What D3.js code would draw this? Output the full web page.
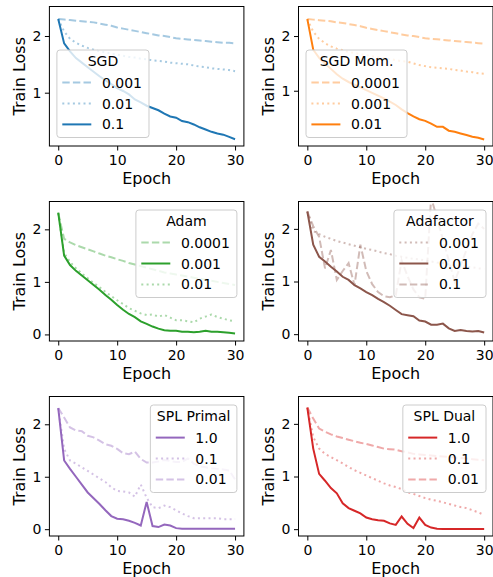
<!DOCTYPE html>
<html>
<head>
  <meta charset="utf-8">
  <title>Train Loss</title>
  <style>
    body { margin: 0; background: #fff; }
    text { font-family: "DejaVu Sans", sans-serif; fill: #000; }
  </style>
</head>
<body>
  <div id="plot"></div>

  <script src="https://d3js.org/d3.v7.min.js"></script>
  <script>

    // epochs (x values)
    let epochs = [0,1,2,3,4,5,6,7,8,9,10,11,12,13,14,15,16,17,18,19,20,21,22,23,24,25,26,27,28,29,30];
    let xTicks = [0, 10, 20, 30];

    // SGD
    let sgd_0001 = [2.30,2.29,2.28,2.27,2.26,2.25,2.24,2.22,2.20,2.18,2.15,2.13,2.11,2.09,2.07,2.05,2.03,2.01,2.00,1.98,1.96,1.95,1.94,1.93,1.92,1.91,1.90,1.89,1.88,1.88,1.87];
    let sgd_001 = [2.30,2.08,1.95,1.88,1.83,1.79,1.76,1.73,1.71,1.69,1.67,1.65,1.63,1.62,1.60,1.59,1.57,1.56,1.55,1.53,1.52,1.51,1.50,1.48,1.46,1.45,1.43,1.42,1.41,1.40,1.38];
    let sgd_01 = [2.30,1.87,1.73,1.61,1.53,1.45,1.37,1.29,1.22,1.15,1.08,1.03,0.97,0.88,0.83,0.77,0.73,0.69,0.63,0.58,0.56,0.50,0.48,0.44,0.39,0.35,0.31,0.28,0.26,0.22,0.18];

    // SGD Mom.
    let mom_00001 = [2.31,2.30,2.29,2.28,2.27,2.25,2.24,2.22,2.20,2.18,2.15,2.13,2.11,2.09,2.07,2.05,2.03,2.01,2.00,1.98,1.96,1.95,1.94,1.93,1.92,1.91,1.90,1.89,1.88,1.87,1.86];
    let mom_0001 = [2.31,2.08,1.95,1.87,1.81,1.77,1.74,1.71,1.69,1.67,1.65,1.63,1.61,1.60,1.58,1.56,1.54,1.53,1.50,1.47,1.45,1.43,1.42,1.41,1.40,1.38,1.37,1.35,1.34,1.32,1.31];
    let mom_001 = [2.31,1.75,1.60,1.50,1.40,1.30,1.22,1.16,1.11,1.06,1.01,0.96,0.91,0.86,0.80,0.74,0.66,0.59,0.53,0.48,0.45,0.40,0.34,0.34,0.27,0.25,0.22,0.19,0.16,0.14,0.11];

    // Adam
    let adam_00001 = [2.31,1.82,1.75,1.70,1.66,1.62,1.58,1.54,1.50,1.47,1.43,1.40,1.36,1.33,1.30,1.27,1.24,1.21,1.18,1.16,1.14,1.12,1.10,1.08,1.06,1.04,1.02,1.00,0.98,0.96,0.94];
    let adam_0001 = [2.32,1.50,1.32,1.21,1.12,1.03,0.94,0.85,0.75,0.66,0.56,0.47,0.39,0.33,0.25,0.20,0.15,0.11,0.08,0.07,0.07,0.05,0.05,0.04,0.05,0.07,0.05,0.05,0.04,0.03,0.02];
    let adam_001 = [2.31,1.55,1.38,1.26,1.16,1.07,0.98,0.90,0.81,0.73,0.65,0.58,0.50,0.45,0.40,0.37,0.38,0.34,0.37,0.32,0.27,0.27,0.25,0.23,0.30,0.34,0.38,0.33,0.30,0.27,0.25];

    // Adafactor
    let ada_0001 = [2.33,1.96,1.90,1.85,1.81,1.77,1.74,1.71,1.68,1.65,1.62,1.60,1.57,1.54,1.52,1.49,1.47,1.45,1.43,1.42,1.40,1.38,1.36,1.35,1.33,1.31,1.30,1.28,1.27,1.25,1.24];
    let ada_001 = [2.33,1.70,1.47,1.38,1.28,1.19,1.09,1.03,0.93,0.87,0.80,0.74,0.67,0.61,0.54,0.46,0.38,0.36,0.34,0.26,0.24,0.18,0.18,0.20,0.11,0.06,0.08,0.06,0.05,0.06,0.03];
    let ada_01 = [2.33,2.05,1.85,1.25,1.60,1.03,1.20,1.35,0.93,1.70,1.20,0.95,0.80,0.72,0.70,0.74,1.40,1.10,0.85,0.70,0.67,2.60,2.20,1.80,1.40,1.00,1.30,1.60,1.90,2.10,2.00];

    // SPL Primal
    let primal_1 = [2.31,1.31,1.15,1.00,0.85,0.70,0.59,0.48,0.36,0.25,0.20,0.19,0.16,0.12,0.07,0.52,0.06,0.04,0.09,0.07,0.02,0.01,0.01,0.01,0.01,0.01,0.01,0.01,0.01,0.01,0.01];
    let primal_01 = [2.31,1.53,1.31,1.25,1.18,1.11,1.04,0.97,0.90,0.80,0.73,0.72,0.70,0.62,0.85,0.60,0.42,0.40,0.45,0.42,0.36,0.30,0.25,0.21,0.21,0.21,0.21,0.21,0.19,0.19,0.19];
    let primal_001 = [2.31,2.13,1.94,1.88,1.87,1.78,1.75,1.69,1.62,1.59,1.53,1.45,1.43,1.48,1.34,1.27,1.27,1.29,1.32,1.30,1.28,1.28,1.35,1.25,1.20,1.18,1.16,1.15,1.14,1.12,0.95];

    // SPL Dual
    let dual_1 = [2.31,1.53,1.05,0.92,0.78,0.68,0.49,0.40,0.35,0.30,0.22,0.19,0.17,0.16,0.11,0.08,0.24,0.10,0.02,0.22,0.08,0.03,0.01,0.005,0.005,0.005,0.005,0.005,0.005,0.005,0.005];
    let dual_01 = [2.31,1.75,1.53,1.43,1.37,1.31,1.25,1.18,1.12,1.07,1.02,0.97,0.92,0.87,0.83,0.80,0.76,0.70,0.67,0.63,0.59,0.56,0.54,0.51,0.48,0.45,0.42,0.40,0.36,0.32,0.27];
    let dual_001 = [2.31,2.10,1.91,1.85,1.80,1.76,1.73,1.70,1.67,1.64,1.62,1.59,1.56,1.53,1.52,1.51,1.48,1.46,1.43,1.42,1.41,1.40,1.39,1.38,1.37,1.36,1.35,1.34,1.33,1.32,1.31];

    // panel 설정 (색, 범례, 축 범위)
    let panels = [
      {title:'SGD', color:'#1f77b4', col:0, row:0, ylim:[0.06,2.52], yTicks:[1,2], loc:'lower left',
       series:[{label:'0.001', data:sgd_0001, dash:'dashed', faint:true},
               {label:'0.01', data:sgd_001, dash:'dotted', faint:true},
               {label:'0.1', data:sgd_01, dash:'solid', faint:false}]},
      {title:'SGD Mom.', color:'#ff7f0e', col:1, row:0, ylim:[-0.01,2.54], yTicks:[1,2], loc:'lower left',
       series:[{label:'0.0001', data:mom_00001, dash:'dashed', faint:true},
               {label:'0.001', data:mom_0001, dash:'dotted', faint:true},
               {label:'0.01', data:mom_001, dash:'solid', faint:false}]},
      {title:'Adam', color:'#2ca02c', col:0, row:1, ylim:[-0.125,2.53], yTicks:[0,1,2], loc:'upper right',
       series:[{label:'0.0001', data:adam_00001, dash:'dashed', faint:true},
               {label:'0.001', data:adam_0001, dash:'solid', faint:false},
               {label:'0.01', data:adam_001, dash:'dotted', faint:true}]},
      {title:'Adafactor', color:'#8c564b', col:1, row:1, ylim:[-0.13,2.52], yTicks:[0,1,2], loc:'upper right',
       series:[{label:'0.001', data:ada_0001, dash:'dotted', faint:true},
               {label:'0.01', data:ada_001, dash:'solid', faint:false},
               {label:'0.1', data:ada_01, dash:'dashed', faint:true}]},
      {title:'SPL Primal', color:'#9467bd', col:0, row:2, ylim:[-0.13,2.53], yTicks:[0,1,2], loc:'upper right',
       series:[{label:'1.0', data:primal_1, dash:'solid', faint:false},
               {label:'0.1', data:primal_01, dash:'dotted', faint:true},
               {label:'0.01', data:primal_001, dash:'dashed', faint:true}]},
      {title:'SPL Dual', color:'#d62728', col:1, row:2, ylim:[-0.13,2.52], yTicks:[0,1,2], loc:'upper right',
       series:[{label:'1.0', data:dual_1, dash:'solid', faint:false},
               {label:'0.1', data:dual_01, dash:'dotted', faint:true},
               {label:'0.01', data:dual_001, dash:'dashed', faint:true}]}
    ];

    function translate(x,y) {
      return 'translate('+ x + ',' + y +')';
    }

    let svgWidth = 493;
    let svgHeight = 577;
    let colLeft = [49.4, 298.5];
    let rowTop = [6.5, 201.5, 396.5];
    let width = 194.5;
    let height = 139.5;
    let dashes = {solid:null, dashed:'7.4,3.2', dotted:'2,3.3'};

    let svg = d3.select('#plot')
      .append('svg')
        .attr('width', svgWidth)
        .attr('height', svgHeight);

    panels.forEach(function (p, pi) {
      let g = svg.append('g')
        .attr('transform', translate(colLeft[p.col], rowTop[p.row]));

      let x = d3.scaleLinear().domain([-1.5, 31.5]).range([0, width]);
      let y = d3.scaleLinear().domain(p.ylim).range([height, 0]);

      // clip
      g.append('clipPath')
        .attr('id', 'clip' + pi)
        .append('rect')
          .attr('width', width)
          .attr('height', height);

      let line = d3.line()
        .x((d, i) => x(epochs[i]))
        .y(d => y(d));

      // lines
      g.append('g')
        .attr('clip-path', 'url(#clip' + pi + ')')
        .selectAll('path')
        .data(p.series)
        .enter()
          .append('path')
          .attr('d', d => line(d.data))
          .attr('fill', 'none')
          .attr('stroke', p.color)
          .attr('stroke-opacity', d => d.faint ? 0.4 : 1)
          .attr('stroke-width', 2)
          .attr('stroke-dasharray', d => dashes[d.dash]);

      // axes
      let xAxis = d3.axisBottom(x).tickValues(xTicks).tickFormat(d3.format('d'))
        .tickSize(4.5).tickPadding(4.5).tickSizeOuter(0);
      let yAxis = d3.axisLeft(y).tickValues(p.yTicks).tickFormat(d3.format('d'))
        .tickSize(4.5).tickPadding(3.5).tickSizeOuter(0);

      let gx = g.append('g')
        .attr('transform', translate(0, height))
        .call(xAxis);
      let gy = g.append('g').call(yAxis);

      [gx, gy].forEach(function (a) {
        a.select('.domain').remove();
        a.selectAll('line').attr('stroke', '#000').attr('stroke-width', 1);
        a.selectAll('text').style('font-size', '14px').style('font-family', '"DejaVu Sans"').attr('fill', '#000');
      });

      // frame
      g.append('rect')
        .attr('width', width)
        .attr('height', height)
        .attr('fill', 'none')
        .attr('stroke', '#000')
        .attr('stroke-width', 1);

      // axis labels
      g.append('text')
        .attr('x', width / 2)
        .attr('y', height + 38)
        .style('text-anchor', 'middle')
        .style('font-size', '16px')
        .text('Epoch');

      g.append('text')
        .attr('transform', translate(-24.4, height / 2) + ' rotate(-90)')
        .style('text-anchor', 'middle')
        .style('font-size', '16px')
        .text('Train Loss');

      // legend
      let lg = g.append('g');
      let box = lg.append('rect');
      let title = lg.append('text')
        .attr('y', 16)
        .style('text-anchor', 'middle')
        .style('font-size', '14px')
        .text(p.title);

      let items = lg.selectAll('.item')
        .data(p.series)
        .enter()
        .append('g')
          .attr('transform', (d, i) => translate(0, 37.6 + i * 20.9));

      items.append('line')
        .attr('x1', 5.4)
        .attr('x2', 34.4)
        .attr('y1', -5)
        .attr('y2', -5)
        .attr('stroke', p.color)
        .attr('stroke-opacity', d => d.faint ? 0.4 : 1)
        .attr('stroke-width', 2)
        .attr('stroke-dasharray', d => dashes[d.dash]);

      let labels = items.append('text')
        .attr('x', 45)
        .style('font-size', '14px')
        .text(d => d.label);

      let maxW = d3.max(labels.nodes(), n => n.getComputedTextLength());
      let titleW = title.node().getComputedTextLength();
      let bw = Math.max(45 + maxW + 7, titleW + 13);
      let bh = 87.5;
      title.attr('x', bw / 2);

      box.attr('width', bw)
        .attr('height', bh)
        .attr('rx', 3)
        .attr('fill', '#fff')
        .attr('fill-opacity', 0.8)
        .attr('stroke', '#cccccc')
        .attr('stroke-width', 1);

      let lx = p.loc == 'lower left' ? 7.5 : width - 7 - bw;
      let ly = p.loc == 'lower left' ? height - 8.5 - bh : 8.5;
      lg.attr('transform', translate(lx, ly));
    });

  </script>
</body>
</html>
